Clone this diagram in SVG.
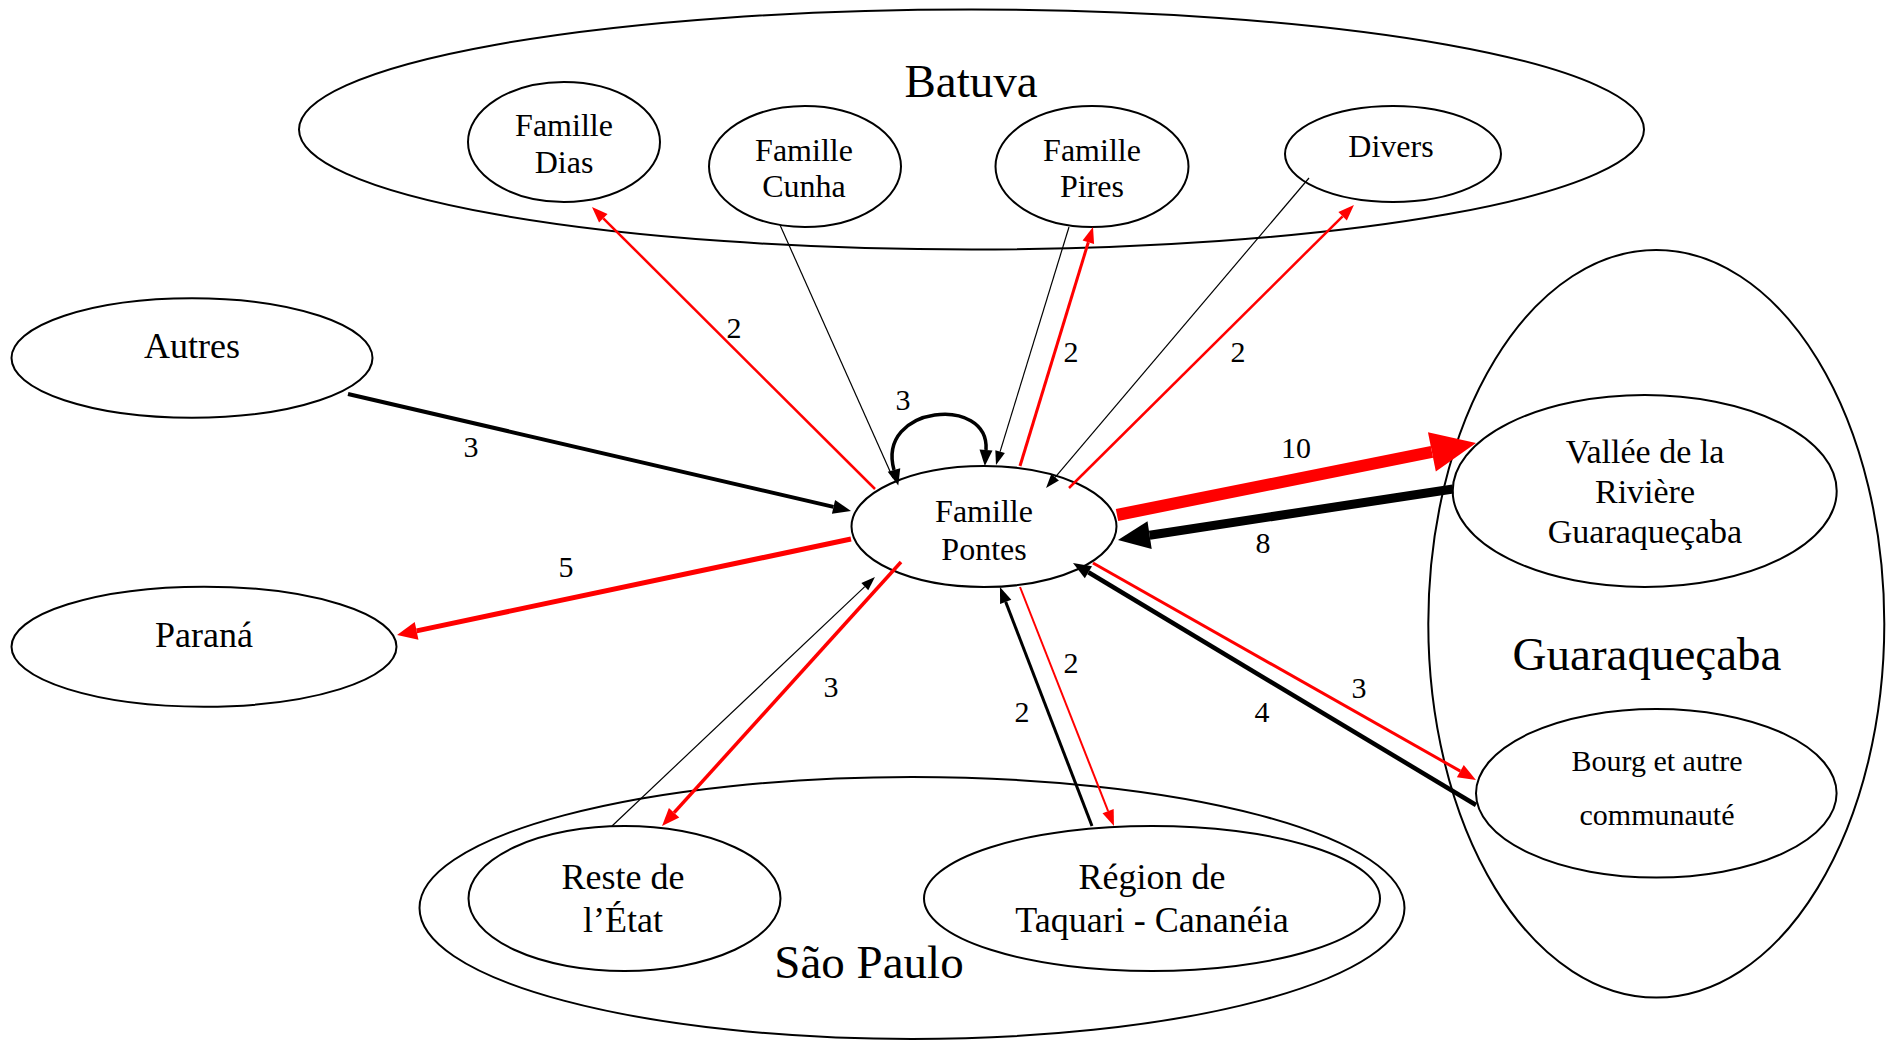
<svg xmlns="http://www.w3.org/2000/svg" width="1892" height="1042" viewBox="0 0 1892 1042">
<style>
.e{fill:#fff;stroke:#000;stroke-width:2}
.t{font-family:"Liberation Serif","Times New Roman",serif;fill:#000;text-anchor:middle}
.big{font-size:47px}
.n32{font-size:32px}
.n36{font-size:36px}
.lab{font-size:30px}
.r{fill:none;stroke:#f00}
.k{fill:none;stroke:#000}
</style>
<defs>
<marker id="mRs" markerUnits="userSpaceOnUse" refX="0" refY="0" markerWidth="20" markerHeight="20" orient="auto" overflow="visible"><path d="M0,-6 L16,0 L0,6 Z" fill="#f00"/></marker>
<marker id="mRm" markerUnits="userSpaceOnUse" refX="0" refY="0" markerWidth="20" markerHeight="20" orient="auto" overflow="visible"><path d="M0,-7 L18,0 L0,7 Z" fill="#f00"/></marker>
<marker id="mRp" markerUnits="userSpaceOnUse" refX="0" refY="0" markerWidth="20" markerHeight="20" orient="auto" overflow="visible"><path d="M0,-9 L20,0 L0,9 Z" fill="#f00"/></marker>
<marker id="mRL" markerUnits="userSpaceOnUse" refX="0" refY="0" markerWidth="50" markerHeight="50" orient="auto" overflow="visible"><path d="M0,-20 L45,0 L0,20 Z" fill="#f00"/></marker>
<marker id="mBs" markerUnits="userSpaceOnUse" refX="0" refY="0" markerWidth="20" markerHeight="20" orient="auto" overflow="visible"><path d="M0,-5 L14,0 L0,5 Z" fill="#000"/></marker>
<marker id="mBn" markerUnits="userSpaceOnUse" refX="0" refY="0" markerWidth="20" markerHeight="20" orient="auto" overflow="visible"><path d="M0,-6 L16,0 L0,6 Z" fill="#000"/></marker>
<marker id="mBm" markerUnits="userSpaceOnUse" refX="0" refY="0" markerWidth="20" markerHeight="20" orient="auto" overflow="visible"><path d="M0,-7 L18,0 L0,7 Z" fill="#000"/></marker>
<marker id="mBL" markerUnits="userSpaceOnUse" refX="0" refY="0" markerWidth="40" markerHeight="40" orient="auto" overflow="visible"><path d="M0,-14 L32,0 L0,14 Z" fill="#000"/></marker>
<marker id="mBloopS" markerUnits="userSpaceOnUse" refX="0" refY="0" markerWidth="20" markerHeight="20" orient="auto-start-reverse" overflow="visible"><path d="M0,-6.5 L16,0 L0,6.5 Z" fill="#000"/></marker>
</defs>

<g id="group-batuva">
<ellipse class="e" cx="971.5" cy="129.5" rx="672.5" ry="120"/>
<text class="t big" x="971" y="97">Batuva</text>
</g>
<g id="group-saopaulo">
<ellipse class="e" cx="912" cy="908" rx="492.5" ry="131"/>
<text class="t big" x="869" y="978">São Paulo</text>
</g>
<g id="group-guaraquecaba">
<ellipse class="e" cx="1656.3" cy="623.8" rx="228" ry="373.8"/>
<text class="t big" x="1647" y="670">Guaraqueçaba</text>
</g>

<g id="node-dias">
<ellipse class="e" cx="564" cy="142" rx="96" ry="60"/>
<text class="t n32" x="564" y="136">Famille</text>
<text class="t n32" x="564" y="173">Dias</text>
</g>
<g id="node-cunha">
<ellipse class="e" cx="805" cy="166.5" rx="96" ry="60.5"/>
<text class="t n32" x="804" y="160.5">Famille</text>
<text class="t n32" x="804" y="197">Cunha</text>
</g>
<g id="node-pires">
<ellipse class="e" cx="1092" cy="166.5" rx="96.5" ry="60.5"/>
<text class="t n32" x="1092" y="160.5">Famille</text>
<text class="t n32" x="1092" y="197">Pires</text>
</g>
<g id="node-divers">
<ellipse class="e" cx="1393" cy="154" rx="108" ry="48"/>
<text class="t n32" x="1391" y="157">Divers</text>
</g>
<g id="node-autres">
<ellipse class="e" cx="192" cy="358" rx="180.5" ry="59.7"/>
<text class="t n36" x="192" y="358">Autres</text>
</g>
<g id="node-parana">
<ellipse class="e" cx="204" cy="646.7" rx="192.5" ry="60"/>
<text class="t n36" x="204" y="647">Paraná</text>
</g>
<g id="node-pontes">
<ellipse class="e" cx="984" cy="526.5" rx="132.5" ry="60.5"/>
<text class="t n32" x="984" y="522">Famille</text>
<text class="t n32" x="984" y="560">Pontes</text>
</g>
<g id="node-vallee">
<ellipse class="e" cx="1644.7" cy="491" rx="192" ry="96"/>
<text class="t" style="font-size:34px" x="1645" y="462.5">Vallée de la</text>
<text class="t" style="font-size:34px" x="1645" y="502.5">Rivière</text>
<text class="t" style="font-size:34px" x="1645" y="542.5">Guaraqueçaba</text>
</g>
<g id="node-bourg">
<ellipse class="e" cx="1656.3" cy="793.3" rx="180.3" ry="84.3"/>
<text class="t" style="font-size:30px" x="1657" y="771">Bourg et autre</text>
<text class="t" style="font-size:30px" x="1657" y="825">communauté</text>
</g>
<g id="node-reste">
<ellipse class="e" cx="624.5" cy="898.5" rx="156" ry="72.5"/>
<text class="t n36" x="623" y="889">Reste de</text>
<text class="t n36" x="623" y="932">l’État</text>
</g>
<g id="node-region">
<ellipse class="e" cx="1152" cy="898.5" rx="228" ry="72.5"/>
<text class="t n36" x="1152" y="889">Région de</text>
<text class="t n36" x="1152" y="932">Taquari - Cananéia</text>
</g>

<g id="connectors">
<line class="k" x1="348" y1="394" x2="833.5" y2="506.9" stroke-width="4" marker-end="url(#mBm)"/>
<line class="r" x1="851" y1="539" x2="416.6" y2="630.9" stroke-width="5" marker-end="url(#mRp)"/>
<line class="r" x1="875" y1="489" x2="603.3" y2="218.3" stroke-width="2.5" marker-end="url(#mRs)"/>
<line class="k" x1="780" y1="225" x2="893" y2="478" stroke-width="1.2"/>
<path class="k" d="M894 470 C876 405 990 395 986 450" stroke-width="3.5" marker-start="url(#mBloopS)" marker-end="url(#mBloopS)"/>
<line class="k" x1="1069" y1="227" x2="1000.1" y2="451.6" stroke-width="1.2" marker-end="url(#mBs)"/>
<line class="r" x1="1020" y1="466" x2="1088.3" y2="242.3" stroke-width="3" marker-end="url(#mRs)"/>
<line class="k" x1="1309" y1="178" x2="1055.1" y2="477.3" stroke-width="1.2" marker-end="url(#mBs)"/>
<line class="r" x1="1069" y1="488" x2="1342.6" y2="216.3" stroke-width="2.5" marker-end="url(#mRs)"/>
<line class="r" x1="1117" y1="515" x2="1431.9" y2="451.85" stroke-width="12" marker-end="url(#mRL)"/>
<line class="k" x1="1453" y1="489" x2="1149.6" y2="535.2" stroke-width="9" marker-end="url(#mBL)"/>
<line class="r" x1="1093" y1="563" x2="1460.3" y2="771.1" stroke-width="3" marker-end="url(#mRm)"/>
<line class="k" x1="1476" y1="805" x2="1088.4" y2="572.3" stroke-width="4.5" marker-end="url(#mBm)"/>
<line class="k" x1="612" y1="826" x2="864.8" y2="586.6" stroke-width="1.2" marker-end="url(#mBs)"/>
<line class="r" x1="901" y1="562" x2="674.1" y2="812.7" stroke-width="3.5" marker-end="url(#mRm)"/>
<line class="k" x1="1092" y1="826" x2="1005.7" y2="601.9" stroke-width="3" marker-end="url(#mBn)"/>
<line class="r" x1="1020" y1="587" x2="1108.1" y2="811.1" stroke-width="2" marker-end="url(#mRs)"/>
<text class="t lab" x="471" y="457">3</text>
<text class="t lab" x="566" y="577">5</text>
<text class="t lab" x="734" y="338">2</text>
<text class="t lab" x="903" y="410">3</text>
<text class="t lab" x="1071" y="362">2</text>
<text class="t lab" x="1238" y="362">2</text>
<text class="t lab" x="1296" y="458">10</text>
<text class="t lab" x="1263" y="553">8</text>
<text class="t lab" x="1359" y="698">3</text>
<text class="t lab" x="1262" y="722">4</text>
<text class="t lab" x="831" y="697">3</text>
<text class="t lab" x="1022" y="722">2</text>
<text class="t lab" x="1071" y="673">2</text>
</g>
</svg>
